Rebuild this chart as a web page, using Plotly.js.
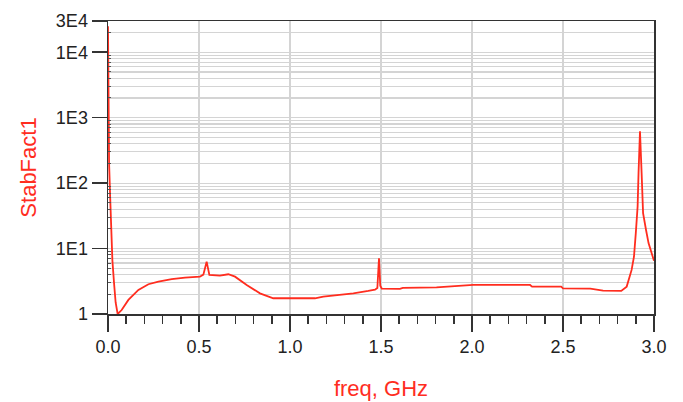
<!DOCTYPE html>
<html>
<head>
<meta charset="utf-8">
<script src="https://cdn.plot.ly/plotly-3.0.1.min.js"></script>
<style>
  html, body { margin: 0; padding: 0; background: #fff; }
  #chart { width: 683px; height: 402px; }
</style>
</head>
<body>
<div id="chart"></div>
<script>
// Stability factor vs. frequency (GHz)
const freq = [
  0.000, 0.003, 0.006, 0.012, 0.018, 0.024, 0.033, 0.042, 0.053,
  0.075, 0.112, 0.167, 0.222, 0.277, 0.350, 0.423, 0.505, 0.524, 0.542, 0.557,
  0.615, 0.661, 0.698, 0.762, 0.835, 0.908, 1.000, 1.137, 1.183, 1.275,
  1.348, 1.430, 1.467, 1.480, 1.489, 1.496, 1.504, 1.604, 1.620, 1.805,
  2.007, 2.319, 2.330, 2.490, 2.500, 2.650, 2.720, 2.820, 2.850, 2.877,
  2.890, 2.900, 2.910, 2.915, 2.923, 2.932, 2.940, 2.956, 2.970, 3.000
];
const stabFact1 = [
  25000, 3000, 200, 60, 15, 6.7, 3.0, 1.5, 1.0,
  1.15, 1.64, 2.33, 2.85, 3.13, 3.4, 3.6, 3.72, 4.0, 6.3, 3.96,
  3.86, 4.05, 3.72, 2.78, 2.07, 1.74, 1.74, 1.74, 1.84, 1.95,
  2.07, 2.25, 2.35, 2.5, 7.1, 2.7, 2.45, 2.42, 2.5, 2.56,
  2.78, 2.78, 2.62, 2.62, 2.47, 2.45, 2.28, 2.25, 2.62, 4.72,
  7.5, 17.2, 44, 142, 620, 142, 34.8, 19.4, 12.1, 6.5
];

const yTickVals = [1, 10, 100, 1000, 10000, 30000];
const yTickText = ['1', '1E1', '1E2', '1E3', '1E4', '3E4'];

// minor gridlines at 2..9 of each decade, plus 2E4
const yMinorVals = [];
for (let d = 1; d <= 1000; d *= 10) {
  for (let m = 2; m <= 9; m++) yMinorVals.push(m * d);
}
yMinorVals.push(20000);

const red = '#ff2d1f';
const ink = '#222222';
const gridCol = '#d4d4d4';

const trace = {
  x: freq,
  y: stabFact1,
  type: 'scatter',
  mode: 'lines',
  line: { color: red, width: 1.8 },
  hoverinfo: 'x+y'
};

const layout = {
  width: 683,
  height: 402,
  margin: { l: 108, r: 29, t: 21, b: 88 },
  paper_bgcolor: '#ffffff',
  plot_bgcolor: '#ffffff',
  showlegend: false,
  font: { family: 'Liberation Sans, Arial, sans-serif', color: ink },
  xaxis: {
    range: [0, 3],
    dtick: 0.5,
    tick0: 0,
    tickformat: '.1f',
    ticks: 'outside',
    ticklen: 16,
    tickwidth: 1.5,
    tickcolor: '#333',
    tickfont: { size: 18, color: ink },
    showline: true,
    linecolor: '#333',
    linewidth: 1.5,
    mirror: true,
    showgrid: true,
    gridcolor: gridCol,
    gridwidth: 1.2,
    zeroline: false,
    minor: { dtick: 0.1, ticks: 'outside', ticklen: 8, tickwidth: 1.5, tickcolor: '#333', showgrid: false },
    title: { text: 'freq, GHz', font: { size: 22, color: red }, standoff: 24 }
  },
  yaxis: {
    type: 'log',
    range: [0, Math.log10(30000)],
    tickmode: 'array',
    tickvals: yTickVals,
    ticktext: yTickText,
    ticks: 'outside',
    ticklen: 15,
    tickwidth: 1.5,
    tickcolor: '#333',
    tickfont: { size: 18, color: ink },
    showline: true,
    linecolor: '#333',
    linewidth: 1.5,
    mirror: true,
    showgrid: true,
    gridcolor: gridCol,
    gridwidth: 1.2,
    zeroline: false,
    minor: { tickvals: yMinorVals, ticks: 'inside', ticklen: 3, tickwidth: 1, tickcolor: '#555', showgrid: true, gridcolor: gridCol, gridwidth: 1.2 },
    title: { text: 'StabFact1', font: { size: 22, color: red }, standoff: 13 }
  }
};

Plotly.newPlot('chart', [trace], layout, { staticPlot: true, displayModeBar: false });
</script>
</body>
</html>
